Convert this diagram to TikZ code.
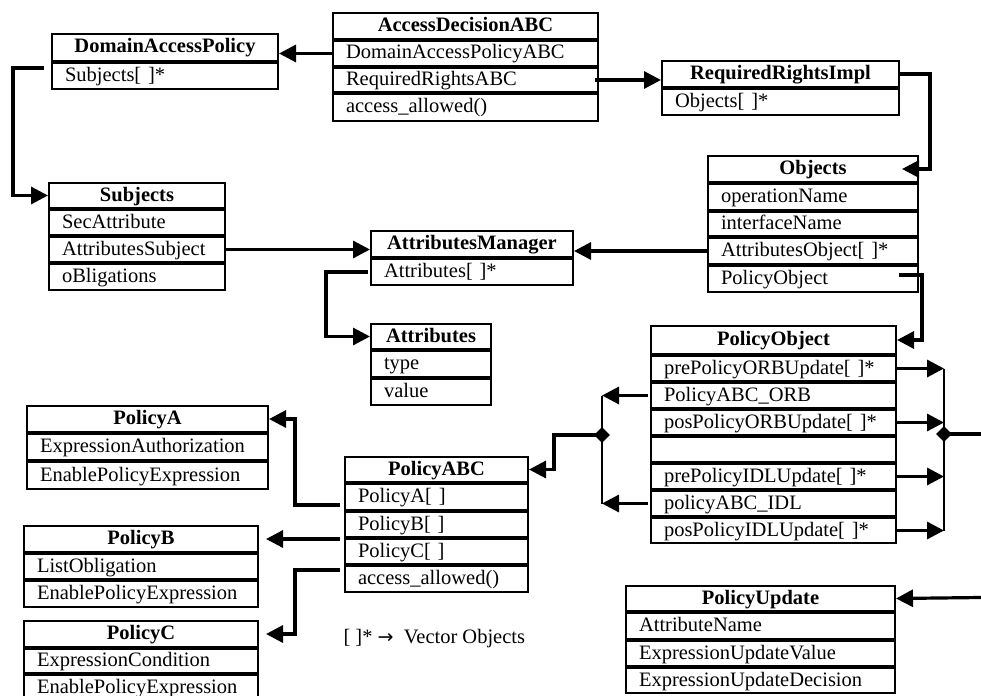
\documentclass[tikz,border=0pt]{standalone}
\usepackage{fontspec}
\setmainfont{Liberation Serif}
\newfontfamily\arrowfont{DejaVu Sans}
\usetikzlibrary{arrows.meta,shapes.geometric}

\tikzset{
  cellbase/.style={draw, line width=2pt, inner xsep=13pt, inner ysep=0pt,
                   text height=15pt, text depth=4pt, anchor=north west},
  hdrcell/.style={cellbase, font=\fontsize{20.5}{24}\selectfont\bfseries},
  rowcell/.style={cellbase, font=\fontsize{20.5}{24}\selectfont, align=left},
  conn/.style={line width=3.2pt},
  arr/.style={conn, -{Triangle[length=17pt,width=17pt]}},
  thinv/.style={line width=1.7pt},
  dmd/.style={diamond, fill=black, minimum size=16pt, inner sep=0pt},
  legend/.style={anchor=base west, font=\fontsize{20.5}{24}\selectfont},
}

% UML-like class box: #1 name, #2 top-left corner, #3 width,
% #4 title row height, #5 title, #6 list of height/text rows
\newcommand\classbox[6]{%
  \node[hdrcell, minimum width=#3pt, minimum height=#4pt, alias=#1-0] (#1-h) at #2 {#5};
  \pgfmathsetmacro\cbtw{#3-26}
  \foreach \rh/\rt [count=\i, evaluate=\i as \j using int(\i-1)] in {#6} {
    \node[rowcell, text width=\cbtw pt, minimum height=\rh pt] (#1-\i) at (#1-\j.south west) {\rt};
  }
}

\begin{document}
\begin{tikzpicture}[x=1pt,y=-1pt]
\path[use as bounding box] (0,0) rectangle (981,695);

% ---- classes ----
\classbox{dap}{(51,33)}{226}{27}{DomainAccessPolicy}{26/Subjects[ ]*}
\classbox{adc}{(332,12)}{265}{26}{AccessDecisionABC}{25/DomainAccessPolicyABC,24/RequiredRightsABC,27/access\_allowed()}
\classbox{rri}{(661,60)}{237}{26}{RequiredRightsImpl}{26/Objects[ ]*}
\classbox{obj}{(707,155)}{210}{26}{Objects}{26/operationName,24/interfaceName,26/AttributesObject[ ]*,26/PolicyObject}
\classbox{sub}{(48,182)}{176}{25}{Subjects}{25/SecAttribute,25/AttributesSubject,26/oBligations}
\classbox{am}{(370,230)}{202}{26}{AttributesManager}{26/Attributes[ ]*}
\classbox{att}{(370,323)}{120}{25}{Attributes}{26/type,26/value}
\classbox{po}{(650,325)}{245}{28}{PolicyObject}{25/prePolicyORBUpdate[ ]*,25/PolicyABC\_ORB,25/posPolicyORBUpdate[ ]*,25/{},25/prePolicyIDLUpdate[ ]*,25/policyABC\_IDL,25/posPolicyIDLUpdate[ ]*}
\classbox{pabc}{(344,456)}{183}{25}{PolicyABC}{26/PolicyA[ ],25/PolicyB[ ],25/PolicyC[ ],26/access\_allowed()}
\classbox{pa}{(26,405)}{241}{26}{PolicyA}{26/ExpressionAuthorization,27/EnablePolicyExpression}
\classbox{pb}{(23,525)}{234}{26}{PolicyB}{25/ListObligation,26/EnablePolicyExpression}
\classbox{pc}{(23,620)}{234}{26}{PolicyC}{24/ExpressionCondition,26/EnablePolicyExpression}
\classbox{pu}{(625,585)}{269}{25}{PolicyUpdate}{26/AttributeName,25/ExpressionUpdateValue,25/ExpressionUpdateDecision}

% ---- junctions and free ends ----
\node[dmd] (dl) at (602,435) {};
\node[dmd] (dr) at (944,434) {};
\coordinate (po-out) at (981,434);
\coordinate (pu-in) at (981,597.5);

\node[legend] (note) at (340,643) {[ ]*~{\arrowfont\fontsize{19}{24}\selectfont →}~ Vector Objects};

% ---- connectors ----
\draw[arr] (adc-1.west) -- (adc-1.west -| dap-h.east);
\draw[arr] ([shift={(-7,-8)}]dap-1.west) -- ++(-31,0) |- (sub-h.west);
\draw[arr] ([xshift=-2pt]sub-2.east) -- (sub-2.east -| am-h.west);
\draw[arr] ([xshift=-2pt]am-1.west) -- ++(-42,0) |- (att-h.west);
\draw[arr] ([xshift=-4pt]adc-2.east) -- (adc-2.east -| rri-h.west);
\draw[arr] (rri-h.east) -- ++(30,0) |- ([xshift=-17pt]obj-h.east);
\draw[arr] (obj-3.west) -- (obj-3.west -| am-h.east);
\draw[arr] ([shift={(-20,-4)}]obj-4.east) -| ([xshift=25pt]po-h.east) -- (po-h.east);

% PolicyObject update lists feed the right-hand bus
\foreach \k in {1,3,5,7} \draw[arr] (po-\k.east) -- (po-\k.east -| dr);
\draw[thinv] (po-1.east -| dr) -- (po-7.east -| dr);
\draw[conn] (dr.center) -- (po-out);

% PolicyObject ABC references join on the left-hand bus
\foreach \k in {2,6} \draw[arr] ([xshift=-2pt]po-\k.west) -- (po-\k.west -| dl);
\draw[thinv] (po-2.west -| dl) -- (po-6.west -| dl);
\draw[arr] (dl.center) -| ([xshift=25pt]pabc-h.east) -- (pabc-h.east);

% PolicyABC members
\draw[arr] ([shift={(-4,8)}]pabc-1.west) -| ([xshift=26pt]pa-h.east) -- (pa-h.east);
\draw[arr] ([xshift=-4pt]pabc-3.west |- pb-h.east) -- ([xshift=7pt]pb-h.east);
\draw[arr] ([shift={(-4,-9)}]pabc-4.west) -| ([xshift=36pt]pc-h.east) -- ([xshift=7pt]pc-h.east);

\draw[arr] (pu-in) -- (pu-h.east);
\end{tikzpicture}
\end{document}
